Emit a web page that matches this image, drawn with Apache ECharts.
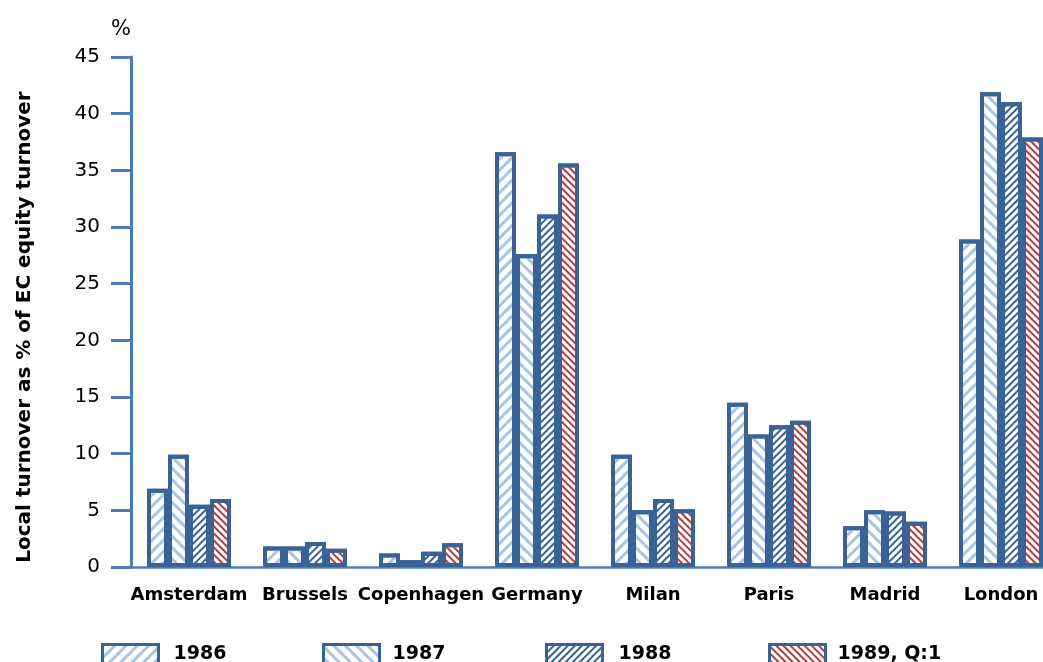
<!DOCTYPE html>
<html>
<head>
<meta charset="utf-8">
<script src="https://cdn.jsdelivr.net/npm/echarts@6/dist/echarts.min.js"></script>
<style>
  html, body { margin: 0; padding: 0; background: #ffffff; }
  #chart { width: 1043px; height: 662px; }
</style>
</head>
<body>
<div id="chart"></div>
<script>
// Local share of EC equity turnover, by exchange (%)
const categories = ['Amsterdam', 'Brussels', 'Copenhagen', 'Germany', 'Milan', 'Paris', 'Madrid', 'London'];
const seriesNames = ['1986', '1987', '1988', '1989, Q:1'];
const v1986 = [6.9, 1.8, 1.2, 36.6, 9.9, 14.5, 3.6, 28.9];
const v1987 = [9.9, 1.8, 0.6, 27.6, 5.0, 11.7, 5.0, 41.9];
const v1988 = [5.5, 2.2, 1.35, 31.1, 6.0, 12.5, 4.9, 41.0];
const v1989 = [6.0, 1.6, 2.1, 35.6, 5.1, 12.9, 4.0, 37.9];
const yTicks = { min: 0, max: 45, step: 5 };

const AXIS_BLUE = '#4a7ebb';
const BAR_EDGE = '#3b6294';
const FONT = 'DejaVu Sans';

// hatch patterns for each year
function hatch(color, line, gap, rot) {
  return {
    symbol: 'rect',
    symbolSize: 1,
    symbolKeepAspect: false,
    color: color,
    dashArrayX: [1, 0],
    dashArrayY: [line, gap],
    rotation: rot
  };
}
const patterns = [
  hatch('#a9c4e4', 3, 5, -Math.PI / 4),
  hatch('#a9c4e4', 3, 5, Math.PI / 4),
  hatch('#3b6294', 1.5, 2.2, -Math.PI / 4),
  hatch('#b0403f', 1.5, 2.2, Math.PI / 4)
];
const values = [v1986, v1987, v1988, v1989];

const series = seriesNames.map((name, i) => ({
  name: name,
  type: 'bar',
  data: values[i],
  barWidth: 21,
  barGap: '0%',
  itemStyle: {
    color: '#ffffff',
    borderColor: BAR_EDGE,
    borderWidth: 4,
    decal: patterns[i]
  },
  emphasis: { disabled: true }
}));

// one legend block per series so each sits at its own spot
const legendLeft = [96, 317, 540, 763];
const legendTextGap = [10, 8, 11, 7];
const legends = seriesNames.map((name, i) => ({
  data: [name],
  left: legendLeft[i],
  top: 638,
  icon: 'rect',
  itemWidth: 56,
  itemHeight: 19,
  selectedMode: false,
  itemStyle: { borderColor: BAR_EDGE, borderWidth: 3 },
  textStyle: {
    fontFamily: FONT, fontWeight: 'bold', fontSize: 19, color: '#000',
    padding: [0, 0, 0, legendTextGap[i]]
  }
}));

const chart = echarts.init(document.getElementById('chart'), null, { renderer: 'canvas' });
chart.setOption({
  animation: false,
  backgroundColor: '#ffffff',
  // plot area runs past the right edge, so the last group is cut off
  grid: {
    left: 131, width: 928, top: 57, bottom: 95,
    containLabel: false, outerBoundsMode: 'none'
  },
  legend: legends,
  xAxis: {
    type: 'category',
    data: categories,
    axisLine: { lineStyle: { color: AXIS_BLUE, width: 2.5 } },
    axisTick: { show: false },
    axisLabel: {
      color: '#000', fontFamily: FONT, fontWeight: 'bold', fontSize: 18, margin: 19,
      interval: 0
    }
  },
  yAxis: {
    type: 'value',
    min: yTicks.min,
    max: yTicks.max,
    interval: yTicks.step,
    splitLine: { show: false },
    axisLine: { show: true, lineStyle: { color: AXIS_BLUE, width: 3 } },
    axisTick: { show: true, length: 20, lineStyle: { color: AXIS_BLUE, width: 3 } },
    axisLabel: { color: '#000', fontFamily: FONT, fontSize: 20, margin: 31 }
  },
  graphic: [
    {
      type: 'text',
      left: 111, top: 19,
      style: { text: '%', fontFamily: FONT, fontSize: 21, fill: '#000' }
    },
    {
      type: 'text',
      x: 25, y: 327,
      rotation: Math.PI / 2,
      style: {
        text: 'Local turnover as % of EC equity turnover',
        fontFamily: FONT, fontWeight: 'bold', fontSize: 20, fill: '#000',
        align: 'center', verticalAlign: 'middle'
      }
    }
  ],
  series: series
});
</script>
</body>
</html>
